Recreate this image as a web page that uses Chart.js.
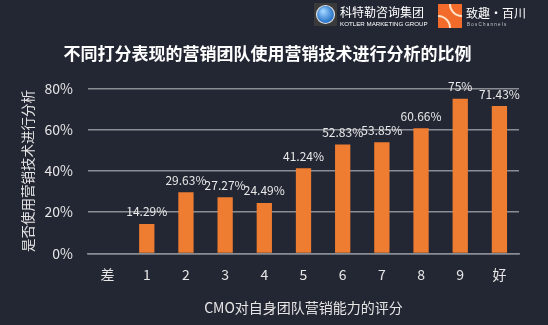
<!DOCTYPE html>
<html>
<head>
<meta charset="utf-8">
<script src="https://cdn.jsdelivr.net/npm/chart.js@4.4.1/dist/chart.umd.min.js"></script>
<style>
html, body { margin: 0; padding: 0; background: #232733; }
#wrap { width: 548px; height: 325px; }
</style>
</head>
<body>
<div id="wrap"><canvas id="barChart" width="548" height="325"></canvas></div>
<script>
// chart data
var categories = ["差", "1", "2", "3", "4", "5", "6", "7", "8", "9", "好"];
var shareValues = [null, 14.29, 29.63, 27.27, 24.49, 41.24, 52.83, 53.85, 60.66, 75, 71.43];
var valueLabels = ["", "14.29%", "29.63%", "27.27%", "24.49%", "41.24%", "52.83%", "53.85%", "60.66%", "75%", "71.43%"];
var yTicks = [0, 20, 40, 60, 80];

var fontName = "'Noto Sans CJK SC', 'Noto Sans', sans-serif";

// writes the percentage over each bar
var barLabels = {
	id: "barLabels",
	afterDatasetsDraw: function(chart){
		var ctx = chart.ctx;
		var meta = chart.getDatasetMeta(0);
		ctx.save();
		ctx.fillStyle = "#e8e8e8";
		ctx.font = "12px " + fontName;
		ctx.textAlign = "center";
		ctx.textBaseline = "bottom";
		meta.data.forEach(function(bar, i){
			if (shareValues[i] == null) return;
			ctx.fillText(valueLabels[i], bar.x, bar.y - 6);
		});
		ctx.restore();
	}
};

// the two logos in the top right corner
var logos = {
	id: "logos",
	afterDraw: function(chart){
		var ctx = chart.ctx;
		ctx.save();
		// kotler mark
		ctx.fillStyle = "#3a3a3a";
		ctx.fillRect(314, 3, 23, 23);
		var g = ctx.createRadialGradient(323, 11, 1, 325, 14, 10);
		g.addColorStop(0, "#9fd3ff");
		g.addColorStop(1, "#1565c0");
		ctx.fillStyle = g;
		ctx.beginPath();
		ctx.arc(325.5, 14.5, 9, 0, Math.PI * 2);
		ctx.fill();
		ctx.strokeStyle = "#dddddd";
		ctx.lineWidth = 1.2;
		ctx.stroke();
		ctx.fillStyle = "#ffffff";
		ctx.font = "12px " + fontName;
		ctx.textBaseline = "middle";
		ctx.fillText("科特勒咨询集团", 340, 12);
		ctx.font = "6.2px 'Liberation Sans Narrow', 'Liberation Sans', sans-serif";
		ctx.fillText("KOTLER MARKETING GROUP", 340, 24.5);
		// boschannels mark
		ctx.fillStyle = "#f26b2a";
		ctx.fillRect(438, 4, 24, 24);
		ctx.strokeStyle = "#ffe2c8";
		ctx.lineWidth = 2;
		ctx.beginPath();
		ctx.arc(438, 28, 12, -Math.PI / 2, 0);
		ctx.stroke();
		ctx.beginPath();
		ctx.arc(462, 4, 12, Math.PI / 2, Math.PI);
		ctx.stroke();
		ctx.fillStyle = "#ffffff";
		ctx.font = "12px " + fontName;
		ctx.fillText("致趣·百川", 466, 13);
		ctx.font = "4.5px 'Liberation Sans', sans-serif";
		ctx.fillStyle = "#cccccc";
		ctx.fillText("B o s C h a n n e l s", 467, 25);
		ctx.restore();
	}
};

var ctx = document.getElementById("barChart").getContext("2d");

var chart = new Chart(ctx, {
	type: "bar",
	data: {
		labels: categories,
		datasets: [{
			label: "是否使用营销技术进行分析",
			data: shareValues,
			backgroundColor: "#ee7d31",
			barPercentage: 0.39,
			categoryPercentage: 1
		}]
	},
	options: {
		responsive: false,
		animation: false,
		layout: { padding: { left: 16, right: 29, top: 0, bottom: 5 } },
		plugins: {
			legend: { display: false },
			tooltip: { enabled: false },
			title: {
				display: true,
				text: "不同打分表现的营销团队使用营销技术进行分析的比例",
				color: "#ffffff",
				font: { family: fontName, size: 17, weight: "bold" },
				padding: { top: 43, bottom: 25 }
			}
		},
		scales: {
			x: {
				grid: { display: false },
				border: { color: "#8a8d94", width: 1.5 },
				ticks: { color: "#e6e6e6", font: { family: fontName, size: 14 }, padding: 5 },
				title: {
					display: true,
					text: "CMO对自身团队营销能力的评分",
					color: "#e6e6e6",
					font: { family: fontName, size: 14 },
					padding: { top: 11 }
				}
			},
			y: {
				min: 0,
				max: 80,
				afterBuildTicks: function(axis){
					axis.ticks = yTicks.map(function(v){ return { value: v }; });
				},
				afterFit: function(axis){
					axis.width = 72;
				},
				grid: { color: "#8a8d94", lineWidth: 1.5, drawTicks: false },
				border: { display: false },
				ticks: {
					color: "#e6e6e6",
					font: { family: fontName, size: 14 },
					padding: 15,
					callback: function(v){ return v + "%"; }
				},
				title: {
					display: true,
					text: "是否使用营销技术进行分析",
					color: "#e6e6e6",
					font: { family: fontName, size: 13.5 },
					padding: { top: 4, bottom: 0 }
				}
			}
		}
	},
	plugins: [barLabels, logos]
});
</script>
</body>
</html>
